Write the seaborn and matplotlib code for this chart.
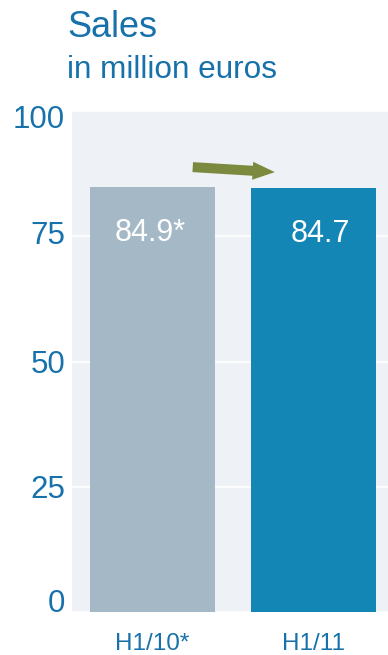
import matplotlib
matplotlib.use("Agg")
import matplotlib.pyplot as plt
import matplotlib.transforms as mtransforms
import seaborn as sns
import pandas as pd

categories = ["H1/10*", "H1/11"]
values = [84.9, 84.7]
value_labels = ["84.9*", "84.7"]
bar_colors = ["#a4b8c6", "#1386b6"]
y_ticks = [0, 25, 50, 75, 100]
title = "Sales"
subtitle = "in million euros"
arrow_from = (0.25, 88.8)
arrow_to = (0.76, 87.8)

sns.set_theme(style="white")
plt.rcParams["font.family"] = ["Liberation Sans", "DejaVu Sans"]

blue_text = "#1771ab"
bg = "#eef2f6"

fig = plt.figure(figsize=(3.88, 6.55), dpi=100)
ax = fig.add_axes([72 / 388, 43 / 655, 316 / 388, 501 / 655])
ax.set_facecolor(bg)

df = pd.DataFrame({"period": categories, "sales": values})
sns.barplot(data=df, x="period", y="sales", hue="period", palette=bar_colors,
            width=0.776, legend=False, ax=ax, saturation=1, zorder=3, linewidth=0)

ax.set_xlim(-0.5, 1.463)
ax.set_ylim(0, 100)
ax.set_yticks(y_ticks)
ax.set_yticklabels([str(t) for t in y_ticks])
ax.grid(axis="y", color="white", linewidth=1.2, zorder=0)
ax.set_axisbelow(True)
for s in ax.spines.values():
    s.set_visible(False)
ax.tick_params(axis="y", length=0, pad=5, labelsize=22.5, labelcolor=blue_text)
ax.tick_params(axis="x", length=0, pad=15, labelsize=17.5, labelcolor=blue_text)
ax.set_xlabel("")
ax.set_ylabel("")

ylabels = ax.get_yticklabels()
ylabels[0].set_verticalalignment("baseline")
ylabels[-1].set_verticalalignment("top")
shifts_px = [0, 0, 0, 4, 6]
for lab, dy in zip(ylabels, shifts_px):
    if dy:
        lab.set_transform(lab.get_transform() +
                          mtransforms.ScaledTranslation(0, dy / 100, fig.dpi_scale_trans))

x_offsets = [-1.5, 5]
for i, (v, lab) in enumerate(zip(values, value_labels)):
    ax.annotate(lab, xy=(i, v), xytext=(x_offsets[i], -39), textcoords="offset points",
                ha="center", va="baseline", color="white", fontsize=22, zorder=5)

ax.annotate("", xy=arrow_to, xytext=arrow_from, zorder=6,
            arrowprops=dict(arrowstyle="simple,head_width=1.3,head_length=1.6,tail_width=0.72",
                            mutation_scale=10, color="#7b8a3f", shrinkA=0, shrinkB=0, lw=0))

fig.text(67 / 388, 1 - 37 / 655, title, fontsize=26, color=blue_text, ha="left", va="baseline")
fig.text(67 / 388, 1 - 78 / 655, subtitle, fontsize=22.7, color=blue_text, ha="left", va="baseline")

fig.savefig("out.png", dpi=100)
